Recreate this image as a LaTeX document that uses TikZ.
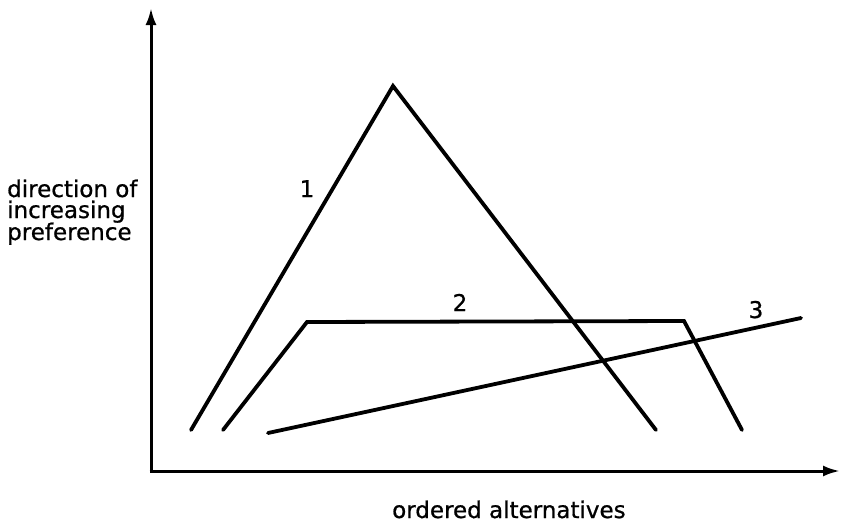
\documentclass[tikz,border=0pt]{standalone}
\usepackage{fontspec}
\setmainfont{DejaVu Sans}
\newfontfamily\lettering{DejaVu Sans}[FakeBold=0.8]
\usetikzlibrary{arrows.meta}
\begin{document}
\begin{tikzpicture}[x=1pt,y=-1pt,
  axis/.style={line width=3pt,-{Latex[length=17pt,width=11pt]}},
  curve/.style={line width=3.8pt,line cap=round,line join=miter},
  lbl/.style={font=\lettering\fontsize{23}{22}\selectfont,inner sep=0pt},
]
\useasboundingbox (0,0) rectangle (849,522);
% axes
\coordinate (origin) at (151,471);
\coordinate (ytip) at (151,8);
\coordinate (xtip) at (840,471);
\draw[axis] ([yshift=1.5pt]origin) -- (ytip);
\draw[axis] ([xshift=-1.5pt]origin) -- (xtip);
% curve 1
\coordinate (a1) at (191,430);
\coordinate (a2) at (393,86);
\coordinate (a3) at (656,430);
\draw[curve] (a1) -- (a2) -- (a3);
% curve 2
\coordinate (b1) at (223,430);
\coordinate (b2) at (307,322);
\coordinate (b3) at (684,321);
\coordinate (b4) at (742,430);
\draw[curve] (b1) -- (b2) -- (b3) -- (b4);
% curve 3
\coordinate (c1) at (268,433);
\coordinate (c2) at (801,318);
\draw[curve] (c1) -- (c2);
% labels
\node[lbl,anchor=base] (n1) at (307,197) {1};
\node[lbl,anchor=base] (n2) at (460,311) {2};
\node[lbl,anchor=base] (n3) at (756,318) {3};
\node[lbl,anchor=base west] (ya) at (7,197) {direction of};
\node[lbl,anchor=base west] (yb) at (7,218) {increasing};
\node[lbl,anchor=base west] (yc) at (7,240) {preference};
\node[lbl,anchor=base west] (xl) at (392,518) {ordered alternatives};
\end{tikzpicture}
\end{document}
